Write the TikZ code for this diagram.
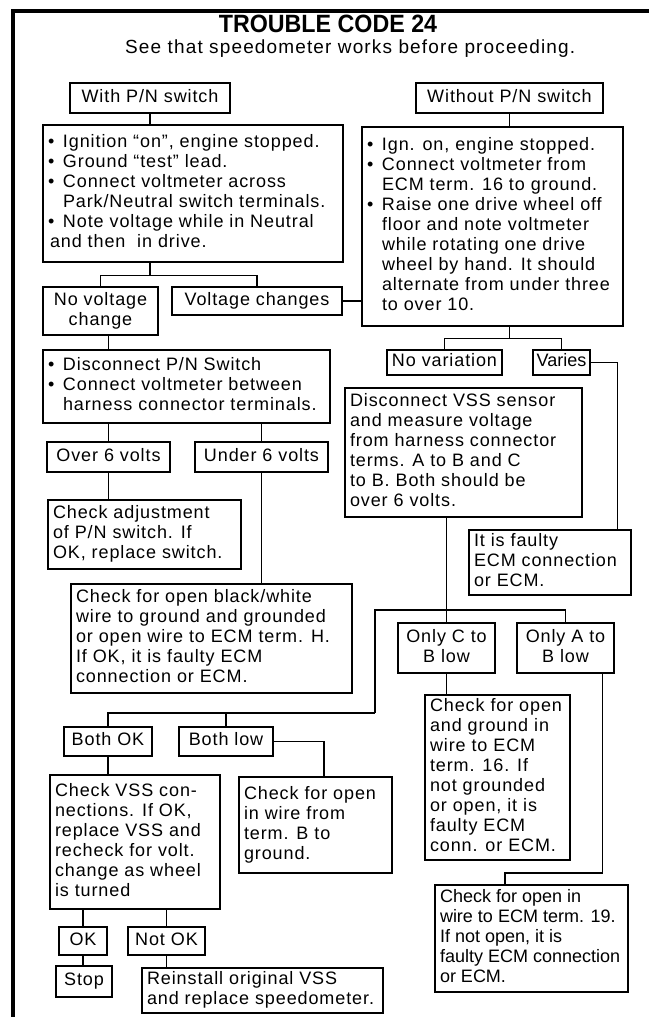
\documentclass[tikz,border=0pt]{standalone}
\usepackage{fontspec}
\setmainfont{Liberation Sans}[LetterSpace=5]
\newfontfamily\titlefont{Liberation Sans}
\usetikzlibrary{calc}

% bullet item and hanging indent for continuation lines
\newcommand\bul{\makebox[15pt][l]{•}}
\newcommand\ind{\hspace*{15pt}}
\newcommand\tight{\addfontfeature{LetterSpace=0}}

% \flowbox{name}{x1}{y1}{x2}{y2}{l|c}{rows}: framed box spanning the given corners
\newcommand\flowbox[7]{%
  \pgfmathsetmacro\bw{#4-#2}\pgfmathsetmacro\bh{#5-#3}\pgfmathsetmacro\tw{#4-#2-10}%
  \node[box,minimum width=\bw pt,minimum height=\bh pt] (#1) at ({(#2+#4)/2},{(#3+#5)/2})
    {\makebox[\tw pt][#6]{\begin{tabular}{@{}#6@{}}#7\end{tabular}}};}

\tikzset{
  box/.style={draw,line width=1.4pt,inner sep=0pt,font=\fontsize{18}{20}\selectfont},
  link/.style={line width=1.4pt},
  frame/.style={line width=3.5pt}
}

\begin{document}
\begin{tikzpicture}[x=1pt,y=-1pt]
\useasboundingbox (0,0) rectangle (649,1017);
\fill[white] (0,0) rectangle (649,1017);

% page frame
\draw[frame] (13,1017) -- (13,11) -- (649,11);

% heading
\node[font={\titlefont\bfseries\fontsize{25}{28}\selectfont},inner sep=0pt] (title) at (328,24) {\scalebox{0.93}[1]{TROUBLE CODE 24}};
\node[font={\fontsize{19}{20}\selectfont\addfontfeature{LetterSpace=6}},inner sep=0pt,anchor=base west] (sub) at (125,53) {See that speedometer works before proceeding.};

% left branch
\flowbox{withpn}{70}{83}{230}{113}{c}{With P/N switch}
\flowbox{b1}{43}{125}{343}{262}{l}{%
\bul Ignition “on”, engine stopped.\\
\bul Ground “test” lead.\\
\bul Connect voltmeter across\\
\ind Park/Neutral switch terminals.\\
\bul Note voltage while in Neutral\\
\hspace*{2pt}and then\ \ in drive.}
\flowbox{novolt}{43}{287}{158}{335}{c}{No voltage\\change}
\flowbox{vchanges}{172}{287}{342}{315}{c}{Voltage changes}
\flowbox{pndisc}{43}{350}{330}{423}{l}{%
\bul Disconnect P/N Switch\\
\bul Connect voltmeter between\\
\ind harness connector terminals.}
\flowbox{over6}{47}{442}{170}{472}{c}{Over 6 volts}
\flowbox{under6}{195}{442}{328}{472}{c}{Under 6 volts}
\flowbox{adjust}{48}{500}{241}{569}{l}{Check adjustment\\of P/N switch. If\\OK, replace switch.}
\flowbox{openbw}{71}{584}{352}{693}{l}{Check for open black/white\\wire to ground and grounded\\or open wire to ECM term. H.\\If OK, it is faulty ECM\\connection or ECM.}

% right branch
\flowbox{withoutpn}{416}{83}{603}{113}{c}{Without P/N switch}
\flowbox{b2}{362}{127}{623}{326}{l}{%
\bul Ign. on, engine stopped.\\
\bul Connect voltmeter from\\
\ind ECM term. 16 to ground.\\
\bul Raise one drive wheel off\\
\ind floor and note voltmeter\\
\ind while rotating one drive\\
\ind wheel by hand. It should\\
\ind alternate from under three\\
\ind to over 10.}
\flowbox{novar}{387}{350}{502}{375}{c}{No variation}
\flowbox{varies}{533}{350}{590}{375}{c}{\tight Varies}
\flowbox{vss}{345}{388}{582}{517}{l}{Disconnect VSS sensor\\and measure voltage\\from harness connector\\terms. A to B and C\\to B. Both should be\\over 6 volts.}
\flowbox{faulty}{469}{530}{631}{595}{l}{It is faulty\\ECM connection\\or ECM.}
\flowbox{onlyc}{398}{623}{495}{673}{c}{Only C to\\B low}
\flowbox{onlya}{517}{623}{614}{673}{c}{Only A to\\B low}
\flowbox{ground16}{425}{695}{570}{860}{l}{Check for open\\and ground in\\wire to ECM\\term. 16. If\\not grounded\\or open, it is\\faulty ECM\\conn. or ECM.}
\flowbox{term19}{435}{885}{628}{992}{l}{\tight Check for open in\\\tight wire to ECM term. 19.\\\tight If not open, it is\\\tight faulty ECM connection\\\tight or ECM.}

% lower left
\flowbox{bothok}{64}{727}{152}{756}{c}{Both OK}
\flowbox{bothlow}{179}{727}{273}{756}{c}{Both low}
\flowbox{vsscheck}{50}{775}{220}{909}{l}{Check VSS con-\\nections. If OK,\\replace VSS and\\recheck for volt.\\change as wheel\\is turned}
\flowbox{termB}{239}{777}{392}{873}{l}{Check for open\\in wire from\\term. B to\\ground.}
\flowbox{ok}{59}{927}{107}{955}{c}{OK}
\flowbox{notok}{128}{927}{205}{955}{c}{Not OK}
\flowbox{stop}{56}{966}{112}{997}{c}{Stop}
\flowbox{reinstall}{142}{968}{383}{1013}{l}{Reinstall original VSS\\and replace speedometer.}

% junction points
\coordinate (jA) at (375,610);
\coordinate (jB) at (375,713);
\coordinate (jC) at (505,873);

% connectors
\draw[link] (withpn.south) -- (withpn.south |- b1.north);
\draw[link] (withpn.south |- b1.south) -- ++(0,13) coordinate (j1);
\draw[link] (novolt.north) |- (j1) -| (vchanges.north);
\draw[link] (vchanges.east) -- (vchanges.east -| b2.west);
\draw[link] (over6.north |- novolt.south) -- (over6.north |- pndisc.north);
\draw[link] (over6.north |- pndisc.south) -- (over6.north);
\draw[link] (under6.north |- pndisc.south) -- (under6.north);
\draw[link] (over6.south) -- (over6.south |- adjust.north);
\draw[link] (under6.south) -- (under6.south |- openbw.north);

\draw[link] (withoutpn.south) -- (withoutpn.south |- b2.north);
\draw[link] (withoutpn.south |- b2.south) -- ++(0,12) coordinate (j2);
\draw[link] (novar.north) |- (j2) -| (varies.north);
\draw[link] (varies.east) -| ([xshift=-14pt]faulty.north east);

\draw[link] (vss.south -| onlyc.north) -- (onlyc.north);
\draw[link] (onlya.north) |- (jA) -- (jB);
\draw[link] (bothok.north) |- (jB);
\draw[link] (bothlow.north) -- (bothlow.north |- jB);
\draw[link] (onlyc.south) -- (onlyc.south |- ground16.north);
\draw[link] ([xshift=-12pt]onlya.south east) |- (jC) -- (jC |- term19.north);

\draw[link] (bothlow.east) -| ([xshift=8.5pt]termB.north);
\draw[link] (bothok.south) -- (bothok.south |- vsscheck.north);
\draw[link] (ok.north |- vsscheck.south) -- (ok.north);
\draw[link] (notok.north |- vsscheck.south) -- (notok.north);
\draw[link] (ok.south) -- (ok.south |- stop.north);
\draw[link] (notok.south) -- (notok.south |- reinstall.north);
\end{tikzpicture}
\end{document}
